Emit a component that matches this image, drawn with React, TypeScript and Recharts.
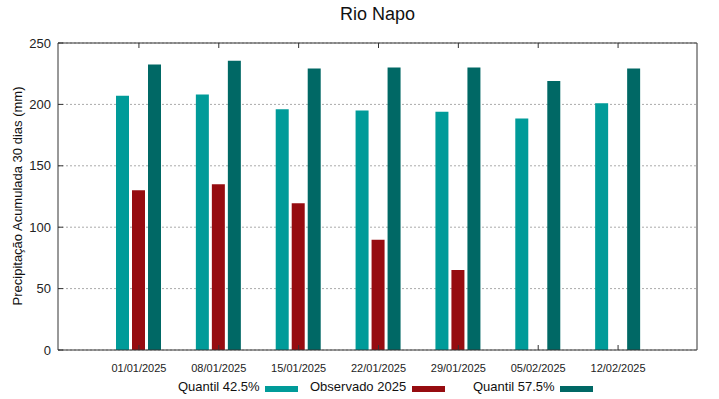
import React from 'react';
import { BarChart, Bar, XAxis, YAxis, CartesianGrid } from 'recharts';

const categories = ['01/01/2025', '08/01/2025', '15/01/2025', '22/01/2025', '29/01/2025', '05/02/2025', '12/02/2025'];
const quantil425 = [207, 208, 196, 195, 194, 188.5, 201];
const observado2025: (number | null)[] = [130, 135, 119.5, 89.7, 65.2, null, null];
const quantil575 = [232.5, 235.6, 229.3, 230, 230, 219, 229.3];
const yTicks = [0, 50, 100, 150, 200, 250];

const C1 = '#009b99';
const C2 = '#960c10';
const C3 = '#006865';
const FONT = '"Liberation Sans", Arial, sans-serif';

const data = categories.map((c, i) => ({
  cat: c,
  q425: quantil425[i],
  obs: observado2025[i],
  q575: quantil575[i],
}));

const legendItems = [
  { label: 'Quantil 42.5%', color: C1, textLeft: 178, swatchLeft: 265 },
  { label: 'Observado 2025', color: C2, textLeft: 310, swatchLeft: 412 },
  { label: 'Quantil 57.5%', color: C3, textLeft: 473, swatchLeft: 560 },
];

export default function App() {
  return (
    <div style={{ position: 'absolute', left: 0, top: 0, width: 719, height: 399, background: '#fff', fontFamily: FONT }}>
      <div style={{ position: 'absolute', left: 0, width: 755, top: 4, textAlign: 'center', fontSize: 18, color: '#111' }}>Rio Napo</div>
      <div
        style={{
          position: 'absolute',
          left: 17,
          top: 196,
          transform: 'translate(-50%, -50%) rotate(-90deg)',
          whiteSpace: 'nowrap',
          fontSize: 13,
          color: '#111',
        }}
      >
        Precipitação Acumulada 30 dias (mm)
      </div>
      <BarChart
        width={719}
        height={399}
        data={data}
        margin={{ top: 42, right: 21, left: 8, bottom: 19 }}
        barSize={13}
        barGap={3}
        style={{ position: 'absolute', left: 0, top: 0 }}
      >
        <CartesianGrid vertical={false} stroke="#aaa" strokeDasharray="2 2" yAxisId="left" xAxisId="bottom" />
        <XAxis
          dataKey="cat"
          xAxisId="bottom"
          height={30}
          padding={{ left: 41, right: 39 }}
          interval={0}
          tickSize={-5}
          tickMargin={19}
          tick={{ fontSize: 11, fill: '#222', fontFamily: FONT }}
          axisLine={{ stroke: '#333' }}
          tickLine={{ stroke: '#333' }}
        />
        <XAxis
          dataKey="cat"
          xAxisId="top"
          orientation="top"
          height={1}
          padding={{ left: 41, right: 39 }}
          interval={0}
          tickSize={-5}
          tickFormatter={() => ''}
          axisLine={{ stroke: '#333' }}
          tickLine={{ stroke: '#333' }}
        />
        <YAxis
          yAxisId="left"
          width={50}
          domain={[0, 250]}
          ticks={yTicks}
          type="number"
          tickSize={-5}
          tickMargin={12}
          tick={{ fontSize: 13, fill: '#222', fontFamily: FONT }}
          axisLine={{ stroke: '#333' }}
          tickLine={{ stroke: '#333' }}
        />
        <YAxis
          yAxisId="right"
          orientation="right"
          width={1}
          domain={[0, 250]}
          ticks={yTicks}
          type="number"
          tickSize={-5}
          tickFormatter={() => ''}
          axisLine={{ stroke: '#333' }}
          tickLine={{ stroke: '#333' }}
        />
        <Bar dataKey="q425" xAxisId="bottom" yAxisId="left" fill={C1} isAnimationActive={false} />
        <Bar dataKey="obs" xAxisId="bottom" yAxisId="left" fill={C2} isAnimationActive={false} />
        <Bar dataKey="q575" xAxisId="bottom" yAxisId="left" fill={C3} isAnimationActive={false} />
      </BarChart>
      {legendItems.map((it) => (
        <React.Fragment key={it.label}>
          <div style={{ position: 'absolute', left: it.textLeft, top: 379, fontSize: 13, lineHeight: '15px', color: '#111', whiteSpace: 'nowrap' }}>
            {it.label}
          </div>
          <div style={{ position: 'absolute', left: it.swatchLeft, top: 386, width: 33, height: 6, background: it.color }} />
        </React.Fragment>
      ))}
    </div>
  );
}
